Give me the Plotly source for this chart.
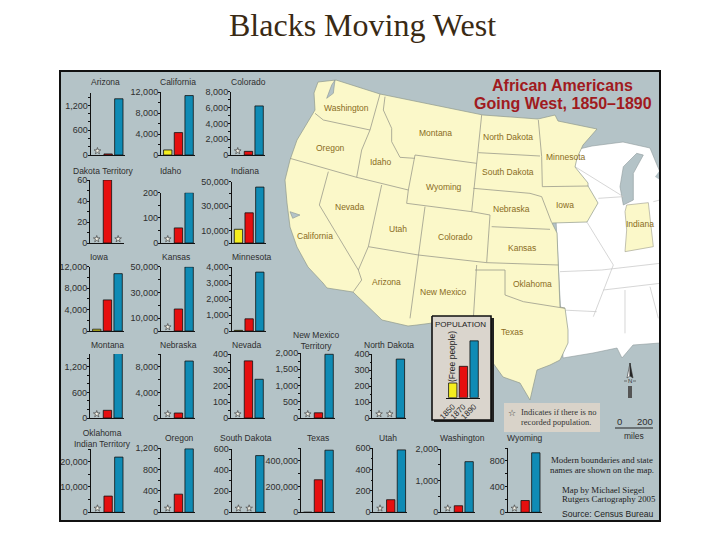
import plotly.graph_objects as go

# ---------- data ----------
PANEL_TITLES = ["Arizona", "California", "Colorado", "Dakota Territory", "Idaho", "Indiana",
                "Iowa", "Kansas", "Minnesota", "Montana", "Nebraska", "Nevada",
                "Oklahoma<br>Indian Territory", "Oregon", "South Dakota",
                "New Mexico<br>Territory", "North Dakota", "Texas", "Utah", "Washington", "Wyoming"]
VALUES_1850 = [None, 960, None, None, None, 11200, 330, None, 40, None, None, None,
               None, None, None, None, None, 400, None, None, None]
VALUES_1870 = [26, 4270, 460, 60, 60, 24600, 5800, 17100, 760, 180, 780, 357,
               6400, 340, None, 160, None, 253000, 118, 207, 183]
VALUES_1890 = [1360, 11320, 6200, None, 200, 45600, 10700, 49800, 3680, 1520, 8900, 242,
               21800, 1190, 540, 1960, 370, 483000, 585, 1600, 925]
AXIS_TOPS = [1500, 12000, 8000, 60, 200, 50000, 12000, 50000, 4000, 1500, 10000, 400,
             25000, 1200, 600, 2000, 400, 500000, 600, 2000, 1000]
TICK_VALUES = [[0, 600, 1200], [0, 4000, 8000, 12000], [0, 2000, 4000, 6000, 8000], [0, 20, 40, 60],
               [0, 100, 200], [0, 10000, 30000, 50000], [0, 4000, 8000, 12000], [0, 10000, 30000, 50000],
               [0, 1000, 2000, 3000, 4000], [0, 600, 1200], [0, 4000, 8000], [0, 100, 200, 300, 400],
               [0, 10000, 20000], [0, 400, 800, 1200], [0, 200, 400, 600],
               [0, 500, 1000, 1500, 2000], [0, 100, 200, 300, 400], [0, 200000, 400000], [0, 200, 400, 600],
               [0, 1000, 2000], [0, 400, 800]]
MINOR_STEPS = [200, 2000, 1000, 10, 50, 10000, 2000, 10000, 500, 200, 2000, 50,
               5000, 200, 100, 250, 50, 100000, 100, 500, 200]
YEARS = ["1850", "1870", "1890"]
LEGEND_SAMPLE = [15, 32, 58]
COLORS = ["#f4ee1e", "#e60f0f", "#0f8bb5"]

STATE_LABELS = ["Washington", "Oregon", "Idaho", "Montana", "North Dakota", "South Dakota", "Minnesota",
                "Wyoming", "Nevada", "Utah", "Colorado", "California", "Arizona", "New Mexico",
                "Nebraska", "Kansas", "Oklahoma", "Iowa", "Indiana", "Texas"]

# ---------- layout in page pixels ----------
PANEL_AXIS_X = [90.7, 161, 231, 90, 161, 231.7, 90, 161, 231.7, 90, 161, 231,
                90.7, 161, 231.7, 301, 372.3, 301, 373.3, 441, 507.7]
PANEL_BASE_Y = [155, 155, 155, 243, 243, 243, 331, 331, 331, 418, 418, 418,
                512.3, 512.3, 512.3, 418, 418, 512.3, 512.3, 512.3, 512.3]
PANEL_TOP_Y = [93, 92, 91.7, 180, 192.7, 181.7, 266.7, 266.7, 267, 354, 354, 354,
               449, 448.3, 449.3, 353, 354.3, 448, 448.3, 449, 448]
PANEL_TITLE_XY = [(106, 82), (178, 82), (248, 82), (103, 171), (171, 171), (245, 171),
                  (99, 257), (176, 257), (251, 257), (107, 345), (178, 345), (247, 345),
                  (102, 438), (179, 438), (246, 438), (316, 340), (389, 345), (318, 438),
                  (388, 438), (462, 438), (525, 438)]
STATE_LABEL_ZOOM_XY = [(170, 113), (122, 235), (272, 277), (435, 188), (655, 202), (653, 307), (825, 260),
                       (462, 352), (180, 412), (323, 477), (497, 502), (75, 497), (290, 637), (460, 665),
                       (665, 418), (695, 533), (728, 643), (825, 405), (1050, 462), (666, 786)]

SEA = "#b4c3c7"
CREAM = "#fbf8c9"
LINE = "#9a9a8c"
INK = "#2e2e2e"
SANS = "Liberation Sans, Arial, sans-serif"
SERIF = "Liberation Serif, Times New Roman, serif"
PAGE_OFFSET = 8  # the browser's default body margin


def z5(*pts):
    return [(290 + x / 3, 70 + y / 3) for x, y in pts]


WHITE_LAND = [(575, 150), (592, 146), (623, 142), (650, 148), (657, 165), (660, 172), (660, 343), (633, 345),
              (622, 358), (617, 348), (593, 353), (563, 358), (555, 200)]
WEST_LAND = [(318, 82), (336, 80), (380, 94), (483, 115), (538, 119), (555, 115), (558, 121), (597, 129),
             (583, 145), (577, 158), (575, 167), (588, 183), (588, 186), (598, 203), (587, 222), (552, 223),
             (557, 233), (558, 265), (560, 307), (565, 308), (568, 330), (568, 343), (560, 360),
             (550, 365), (537, 370), (533, 387), (530, 400), (520, 383), (503, 377), (493, 363), (487, 347),
             (470, 345), (440, 322), (417, 325), (408, 326), (382, 320), (353, 292), (327, 288),
             (323, 283), (308, 267), (297, 247), (290, 227), (287, 203), (285, 180), (290, 160), (297, 140),
             (315, 110), (314, 93)]
INDIANA = z5((1005, 425), (1010, 405), (1075, 398), (1090, 530), (1005, 545), (1010, 480))
LAKE_MICHIGAN = z5((1040, 250), (1000, 290), (990, 350), (1000, 405), (1030, 390), (1030, 310), (1060, 255))
LAKE_HURON = z5((1110, 300), (1095, 320), (1110, 330))
PUGET_SOUND = z5((125, 45), (135, 30), (130, 70), (110, 85))
SF_BAY = z5((0, 425), (30, 435), (8, 445))
STATE_LINES = [z5(*s) for s in [
    [(75, 130), (100, 150), (240, 180)], [(270, 72), (240, 180), (215, 240), (200, 322)],
    [(0, 265), (200, 322), (355, 360)], [(285, 80), (280, 120), (305, 175), (305, 215), (330, 262), (375, 265)],
    [(375, 255), (355, 360), (350, 400), (545, 425), (600, 435)], [(375, 255), (560, 280)],
    [(575, 135), (560, 280), (545, 425)], [(565, 248), (750, 258)], [(550, 355), (720, 370), (755, 380), (785, 458)],
    [(405, 410), (385, 555), (360, 745)], [(235, 530), (385, 555), (590, 578), (805, 585)],
    [(600, 435), (590, 578)], [(605, 470), (780, 478)], [(115, 305), (88, 405), (205, 600), (215, 630), (190, 665)],
    [(275, 345), (235, 530), (205, 600)], [(560, 585), (550, 745)],
    [(555, 600), (645, 600), (645, 675), (700, 695), (825, 715)], [(745, 150), (755, 260), (757, 350), (895, 348)],
]]
EAST_LINES = [z5(*s) for s in [
    [(925, 385), (1000, 380)], [(810, 605), (935, 600), (1110, 580)], [(890, 455), (950, 550), (970, 585), (910, 740)],
    [(1090, 395), (1110, 390)], [(940, 660), (1110, 640)], [(1005, 660), (1005, 790)], [(1080, 650), (1105, 745)],
    [(815, 720), (920, 725)], [(855, 290), (1000, 380)],
]]


def fx(px):
    return (px - PAGE_OFFSET) / 720


def fy(py):
    return 1 - (py - PAGE_OFFSET) / 540


fig = go.Figure()
fig.update_layout(
    template="none",
    width=720, height=540, margin=dict(l=0, r=0, t=0, b=0, pad=0), autosize=False,
    paper_bgcolor="white", plot_bgcolor="rgba(0,0,0,0)", showlegend=False, hovermode=False,
    xaxis=dict(domain=[0, 1], range=[PAGE_OFFSET, 720 + PAGE_OFFSET], visible=False, fixedrange=True),
    yaxis=dict(domain=[0, 1], range=[540 + PAGE_OFFSET, PAGE_OFFSET], visible=False, fixedrange=True),
)


def poly(pts, fill, line="rgba(0,0,0,0)", width=0.8):
    xs, ys = zip(*(list(pts) + [pts[0]]))
    fig.add_trace(go.Scatter(x=xs, y=ys, mode="lines", fill="toself", fillcolor=fill,
                             line=dict(color=line, width=width), xaxis="x", yaxis="y"))


def polylines(lines, color, width=0.8):
    xs, ys = [], []
    for s in lines:
        xs += [p[0] for p in s] + [None]
        ys += [p[1] for p in s] + [None]
    fig.add_trace(go.Scatter(x=xs, y=ys, mode="lines", line=dict(color=color, width=width),
                             connectgaps=False, xaxis="x", yaxis="y"))


poly([(60, 71), (660, 71), (660, 521), (60, 521)], SEA)
poly(WHITE_LAND, "white", "#8f9a9c", 0.6)
poly(LAKE_MICHIGAN, SEA, "#8f9a9c", 0.6)
poly(LAKE_HURON, SEA)
polylines(EAST_LINES, "#c4c4c4", 0.7)
poly(WEST_LAND, CREAM, "#8f9a8c", 0.7)
poly(PUGET_SOUND, SEA, "#7a8688", 0.5)
poly(SF_BAY, SEA, "#7a8688", 0.5)
poly(INDIANA, CREAM, LINE, 0.6)
polylines(STATE_LINES, LINE, 0.8)

# legend box and note box
poly([(434, 318), (494, 318), (494, 422), (434, 422)], "#222222")
poly([(432, 316), (491, 316), (491, 420), (432, 420)], "#dad5cd", "#111111", 1.6)
poly([(504, 403), (600, 403), (600, 432), (504, 432)], "#d9d3c9")

# north arrow and scale bar
poly([(630, 363), (627, 378), (630, 376)], "white", "#333333", 0.6)
poly([(630, 363), (633, 378), (630, 376)], "#222222", "#333333", 0.6)
poly([(628, 386), (632, 386), (632, 398), (628, 398)], "#555555")
polylines([[(615, 428), (653, 428)]], "#222222", 1.2)
polylines([[(624, 381), (627, 381)], [(633, 381), (636, 381)]], "#555555", 0.8)


def add_bars(idx, axis_x, base_y, top_y, x_end, values, ymax, tickvals, minor, ticktext=None, xticks=False):
    n = idx + 2
    xa, ya = f"x{n}", f"y{n}"
    fig.add_trace(go.Bar(x=[0, 1, 2], y=values, width=0.78,
                         marker=dict(color=COLORS, line=dict(color="#111111", width=0.8)),
                         xaxis=xa, yaxis=ya))
    star_x = [i for i, v in enumerate(values) if v is None]
    if star_x and not xticks:
        fig.add_trace(go.Scatter(x=star_x, y=[ymax * (4.0 / (base_y - top_y))] * len(star_x), mode="markers",
                                 marker=dict(symbol="star", size=5, color="#f4f2e6",
                                             line=dict(color="#444444", width=0.7)),
                                 xaxis=xa, yaxis=ya, cliponaxis=False))
    fig.update_layout({
        f"xaxis{n}": dict(domain=[fx(axis_x), fx(x_end)], range=[-0.63, 2.55], anchor=ya, fixedrange=True,
                          showgrid=False, zeroline=False, showline=True, linecolor="#111111", linewidth=1.4,
                          ticks="", ticklen=2,
                          tickmode="array", tickvals=[0, 1, 2] if xticks else [],
                          ticktext=YEARS if xticks else [], tickangle=-45,
                          tickfont=dict(family=SANS, size=8, color=INK)),
        f"yaxis{n}": dict(domain=[fy(base_y), fy(top_y)], range=[0, ymax], anchor=xa, fixedrange=True,
                          showgrid=False, zeroline=False, showline=not xticks, linecolor="#111111", linewidth=1.1,
                          ticks="outside" if not xticks else "", ticklen=2, tickwidth=1, tickcolor="#111111",
                          ticklabelstandoff=-2,
                          tickmode="array", tickvals=tickvals,
                          ticktext=ticktext if ticktext is not None else [f"{t:,}" for t in tickvals],
                          tickfont=dict(family=SANS, size=9, color=INK),
                          minor=dict(ticks="outside" if minor else "", ticklen=1.5, tickmode="linear",
                                     tick0=0, dtick=minor or 1, tickcolor="#111111", tickwidth=0.7, showgrid=False)),
    })


for i, title in enumerate(PANEL_TITLES):
    vals = [VALUES_1850[i], VALUES_1870[i], VALUES_1890[i]]
    add_bars(i, PANEL_AXIS_X[i], PANEL_BASE_Y[i], PANEL_TOP_Y[i], PANEL_AXIS_X[i] + 34, vals,
             AXIS_TOPS[i], TICK_VALUES[i], MINOR_STEPS[i])

# population key
add_bars(len(PANEL_TITLES), 446, 397.7, 334, 480, LEGEND_SAMPLE, 65, [], 0, [], xticks=True)


def note(x, y, text, size=8.5, color=INK, family=SANS, anchor="center", angle=0, **kw):
    fig.add_annotation(xref="paper", yref="paper", x=fx(x), y=fy(y), text=text, showarrow=False,
                       xanchor=anchor, yanchor="middle", textangle=angle,
                       font=dict(size=size, color=color, family=family), align=kw.pop("align", "center"), **kw)


for title, (x, y) in zip(PANEL_TITLES, PANEL_TITLE_XY):
    note(x, y, title, 8.5)
for label, (zx, zy) in zip(STATE_LABELS, STATE_LABEL_ZOOM_XY):
    note(290 + zx / 3, 70 + zy / 3, label, 8.5, "#8a6c22")

note(362, 25, "Blacks Moving West", 32, "#3a2a14", SERIF)
note(562, 86, "<b>African Americans</b>", 16, "#a01a20")
note(563, 103, "<b>Going West, 1850–1890</b>", 16, "#a01a20")
note(460, 324, "POPULATION", 8, "#222222")
note(452, 357, "(Free people)", 8.5, "#222222", angle=-90)
note(512, 413, "☆", 9, "#333333", "DejaVu Sans")
note(519, 412, "Indicates if there is no", 8.5, "#333333", SERIF, anchor="left")
note(519, 422, "recorded population.", 8.5, "#333333", SERIF, anchor="left")
note(619, 421, "0", 9.5)
note(645, 421, "200", 9.5)
note(634, 436, "miles", 8.5)
note(630, 381, "N", 6, "#333333")
note(602, 460, "Modern boundaries and state", 8.8, "#222222", SERIF)
note(602, 470, "names are shown on the map.", 8.8, "#222222", SERIF)
note(560, 490, "Map by Michael Siegel", 8.8, "#222222", SERIF, anchor="left")
note(560, 499, "Rutgers Cartography 2005", 8.8, "#222222", SERIF, anchor="left")
note(560, 514, "Source: Census Bureau", 8.6, "#222222", anchor="left")

fig.add_shape(type="rect", xref="paper", yref="paper", x0=fx(60), x1=fx(660), y0=fy(521), y1=fy(71),
              line=dict(color="#111111", width=2), fillcolor="rgba(0,0,0,0)", layer="above")

fig.write_html("out.html")
